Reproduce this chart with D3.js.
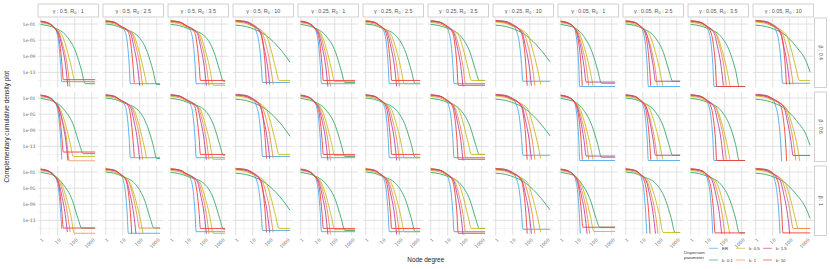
<!DOCTYPE html>
<html>
<head>
<meta charset="utf-8">
<script src="https://cdn.jsdelivr.net/npm/d3@7"></script>
<style>
body { margin: 0; background: #fff; }
text { font-family: "Liberation Sans", Arial, sans-serif; }
</style>
</head>
<body>
<div id="chart"></div>
<script>
var gammas = [0.5, 0.5, 0.5, 0.5, 0.25, 0.25, 0.25, 0.25, 0.05, 0.05, 0.05, 0.05];
var r0s = [1, 2.5, 3.5, 10, 1, 2.5, 3.5, 10, 1, 2.5, 3.5, 10];
var betas = [0.4, 0.6, 1];
var seriesNames = ["ER", "k: 0.1", "k: 0.5", "k: 1", "k: 1.5", "k: 10"];
var seriesColors = ["#4ea9ee", "#3aa86a", "#c9bb1f", "#f08a4e", "#b845a6", "#ef4139"];
var xTicks = [1, 10, 100, 1000];
var yTicks = [1e-1, 1e-5, 1e-9, 1e-13];
var yTickLabels = ["1e-01", "1e-05", "1e-09", "1e-13"];

// curves: pairs of log10(degree), log10(ccdf)
// order inside a panel: ER, k 0.1, k 0.5, k 1, k 1.5, k 10
var beta04 = [
  [ // g 0.5, R0 1
    [0,-0.35, 0.5,-0.85, 0.85,-2.1, 0.94,-3, 1.07,-6, 1.17,-11, 1.24,-15.3, 3.2,-15.3],
    [0,-1.1, 0.5,-1.5, 0.85,-2.0, 1.52,-4, 2.07,-8, 2.4,-12.5, 2.62,-15.8, 3.2,-15.8],
    [0,-0.7, 0.5,-1.1, 0.85,-2.1, 1.22,-3.5, 1.52,-7, 1.82,-12, 2.02,-15.3, 3.2,-15.3],
    [0,-0.45, 0.5,-0.95, 0.85,-2.15, 1.07,-3.2, 1.32,-6.5, 1.57,-11.5, 1.72,-16.5],
    [0,-0.4, 0.5,-0.9, 0.85,-2.15, 1.05,-3.2, 1.25,-6.5, 1.47,-11.5, 1.6,-16.5],
    [0,-0.25, 0.5,-0.85, 0.85,-2.2, 0.98,-3, 1.13,-6, 1.25,-11, 1.33,-14.8, 3.2,-14.8]
  ],
  [ // g 0.5, R0 2.5
    [0,-0.3, 0.5,-0.6, 0.8,-1.3, 1.15,-3, 1.28,-6, 1.38,-11, 1.45,-15.8, 3.2,-15.8],
    [0,-1.0, 0.5,-1.3, 1.0,-2.1, 1.9,-4, 2.45,-8, 2.78,-12.5, 3.0,-16, 3.2,-16],
    [0,-0.6, 0.5,-0.95, 0.9,-1.8, 1.61,-3.5, 1.91,-7, 2.21,-12, 2.41,-16],
    [0,-0.4, 0.5,-0.7, 0.85,-1.6, 1.52,-3.2, 1.77,-6.5, 2.02,-11.5, 2.17,-16.3],
    [0,-0.3, 0.5,-0.6, 0.85,-1.5, 1.45,-3.2, 1.65,-6.5, 1.87,-11.5, 2.0,-16.3],
    [0,-0.17, 0.5,-0.5, 0.8,-1.3, 1.33,-3, 1.48,-6, 1.6,-11, 1.68,-15.6]
  ],
  [ // g 0.5, R0 3.5
    [0,-0.25, 0.5,-0.5, 0.85,-1.3, 1.2,-3, 1.33,-6, 1.43,-11, 1.5,-15.8, 3.2,-15.8],
    [0,-1.1, 0.5,-1.4, 1.0,-2.1, 2.0,-4, 2.55,-8, 2.88,-12.5, 3.1,-15.2, 3.2,-15.2],
    [0,-0.6, 0.5,-0.9, 0.9,-1.7, 1.7,-3.5, 2.0,-7, 2.3,-12, 2.5,-16.2, 3.2,-16.2],
    [0,-0.4, 0.5,-0.65, 0.9,-1.5, 1.6,-3.2, 1.85,-6.5, 2.1,-11.5, 2.25,-16.3],
    [0,-0.3, 0.5,-0.55, 0.9,-1.4, 1.55,-3.2, 1.75,-6.5, 1.97,-11.5, 2.1,-16.3],
    [0,-0.17, 0.5,-0.45, 0.85,-1.2, 1.4,-3, 1.55,-6, 1.67,-11, 1.75,-15, 3.2,-15]
  ],
  [ // g 0.5, R0 10
    [0,-0.17, 0.5,-0.3, 0.9,-0.9, 1.2,-2.7, 1.38,-6, 1.5,-11, 1.58,-15.5, 3.2,-15.5],
    [0,-1.3, 0.6,-1.6, 1.1,-2.3, 1.6,-3.3, 2.4,-6.2, 2.95,-9, 3.2,-10.5],
    [0,-0.5, 0.5,-0.75, 0.9,-1.4, 1.75,-3.5, 2.05,-7, 2.35,-12, 2.55,-15, 3.2,-15],
    [0,-0.3, 0.5,-0.55, 0.9,-1.2, 1.55,-3.2, 1.8,-6.5, 2.05,-11.5, 2.2,-16],
    [0,-0.25, 0.5,-0.45, 0.9,-1.1, 1.45,-3.2, 1.65,-6.5, 1.87,-11.5, 2.0,-16],
    [0,-0.15, 0.5,-0.3, 0.9,-0.9, 1.46,-3, 1.61,-6, 1.73,-11, 1.81,-16]
  ],
  [ // g 0.25, R0 1
    [0,-0.35, 0.5,-0.85, 0.85,-2.1, 0.92,-3, 1.05,-6, 1.15,-11, 1.22,-15.8, 3.2,-15.8],
    [0,-1.1, 0.5,-1.5, 0.85,-2.0, 1.5,-4, 2.05,-8, 2.38,-12.5, 2.6,-15.5, 3.2,-15.5],
    [0,-0.7, 0.5,-1.1, 0.85,-2.1, 1.2,-3.5, 1.5,-7, 1.8,-12, 2.0,-15.3, 3.2,-15.3],
    [0,-0.45, 0.5,-0.95, 0.85,-2.15, 1.1,-3.2, 1.35,-6.5, 1.6,-11.5, 1.75,-16.5],
    [0,-0.4, 0.5,-0.9, 0.85,-2.15, 1.05,-3.2, 1.25,-6.5, 1.47,-11.5, 1.6,-16.5],
    [0,-0.25, 0.5,-0.85, 0.85,-2.2, 0.98,-3, 1.13,-6, 1.25,-11, 1.33,-15, 3.2,-15]
  ],
  [ // g 0.25, R0 2.5
    [0,-0.3, 0.5,-0.6, 0.8,-1.3, 1.09,-3, 1.22,-6, 1.32,-11, 1.39,-15.8, 3.2,-15.8],
    [0,-1.0, 0.5,-1.3, 1.0,-2.1, 1.8,-4, 2.35,-8, 2.68,-12.5, 2.9,-15.7, 3.2,-15.7],
    [0,-0.6, 0.5,-0.95, 0.9,-1.8, 1.47,-3.5, 1.77,-7, 2.07,-12, 2.27,-15.8, 3.2,-15.8],
    [0,-0.4, 0.5,-0.7, 0.85,-1.6, 1.33,-3.2, 1.58,-6.5, 1.83,-11.5, 1.98,-16.5],
    [0,-0.3, 0.5,-0.6, 0.85,-1.5, 1.27,-3.2, 1.47,-6.5, 1.69,-11.5, 1.82,-16.5],
    [0,-0.17, 0.5,-0.5, 0.8,-1.3, 1.18,-3, 1.33,-6, 1.45,-11, 1.53,-15, 3.2,-15]
  ],
  [ // g 0.25, R0 3.5
    [0,-0.25, 0.5,-0.5, 0.85,-1.3, 1.07,-3, 1.2,-6, 1.3,-11, 1.37,-15.8, 3.2,-15.8],
    [0,-1.1, 0.5,-1.4, 1.0,-2.1, 1.76,-4, 2.31,-8, 2.64,-12.5, 2.86,-15, 3.2,-15],
    [0,-0.6, 0.5,-0.9, 0.9,-1.7, 1.6,-3.5, 1.9,-7, 2.2,-12, 2.4,-15, 3.2,-15],
    [0,-0.4, 0.5,-0.65, 0.9,-1.5, 1.4,-3.2, 1.65,-6.5, 1.9,-11.5, 2.05,-15.8, 3.2,-15.8],
    [0,-0.3, 0.5,-0.55, 0.9,-1.4, 1.35,-3.2, 1.55,-6.5, 1.77,-11.5, 1.9,-16.5],
    [0,-0.17, 0.5,-0.45, 0.85,-1.2, 1.27,-3, 1.42,-6, 1.54,-11, 1.62,-16.2, 3.2,-16.2]
  ],
  [ // g 0.25, R0 10
    [0,-0.17, 0.5,-0.3, 0.9,-0.9, 1.22,-2.7, 1.4,-6, 1.52,-11, 1.6,-15.2, 3.2,-15.2],
    [0,-1.3, 0.6,-1.6, 1.1,-2.3, 1.6,-3.3, 2.4,-6.2, 2.95,-9, 3.2,-10.4],
    [0,-0.5, 0.5,-0.75, 0.9,-1.4, 1.85,-3.5, 2.15,-7, 2.45,-12, 2.65,-16],
    [0,-0.3, 0.5,-0.55, 0.9,-1.2, 1.65,-3.2, 1.9,-6.5, 2.15,-11.5, 2.3,-16.3],
    [0,-0.25, 0.5,-0.45, 0.9,-1.1, 1.55,-3.2, 1.75,-6.5, 1.97,-11.5, 2.1,-16.3],
    [0,-0.15, 0.5,-0.3, 0.9,-0.9, 1.5,-3, 1.65,-6, 1.77,-11, 1.85,-16.3]
  ],
  [ // g 0.05, R0 1
    [0,-0.35, 0.5,-0.85, 0.8,-1.9, 0.87,-3, 0.97,-6, 1.06,-11, 1.12,-16.5, 3.2,-16.5],
    [0,-1.1, 0.5,-1.5, 0.85,-2.0, 1.35,-4, 1.85,-8, 2.18,-12.5, 2.4,-15.7, 3.2,-15.7],
    [0,-0.7, 0.5,-1.1, 0.85,-2.1, 1.12,-3.5, 1.4,-7, 1.7,-12, 1.9,-16.3],
    [0,-0.45, 0.5,-0.95, 0.85,-2.15, 1.02,-3.2, 1.25,-6.5, 1.5,-11.5, 1.65,-16.3],
    [0,-0.4, 0.5,-0.9, 0.85,-2.15, 0.98,-3.2, 1.17,-6.5, 1.37,-11.5, 1.5,-15.4, 3.2,-15.4],
    [0,-0.25, 0.5,-0.85, 0.8,-2.0, 0.92,-3, 1.07,-6, 1.19,-11, 1.27,-16.3]
  ],
  [ // g 0.05, R0 2.5
    [0,-0.3, 0.5,-0.6, 0.8,-1.3, 1.03,-3, 1.16,-6, 1.26,-11, 1.33,-16.5, 3.2,-16.5],
    [0,-1.0, 0.5,-1.3, 1.0,-2.1, 1.66,-4, 2.21,-8, 2.54,-12.5, 2.76,-15.2, 3.2,-15.2],
    [0,-0.6, 0.5,-0.95, 0.9,-1.8, 1.38,-3.5, 1.68,-7, 1.98,-12, 2.18,-16.3],
    [0,-0.4, 0.5,-0.7, 0.85,-1.6, 1.21,-3.2, 1.46,-6.5, 1.71,-11.5, 1.86,-16.3],
    [0,-0.3, 0.5,-0.6, 0.85,-1.5, 1.2,-3.2, 1.4,-6.5, 1.62,-11.5, 1.75,-15.2, 3.2,-15.2],
    [0,-0.17, 0.5,-0.5, 0.8,-1.3, 1.12,-3, 1.27,-6, 1.39,-11, 1.47,-16.3]
  ],
  [ // g 0.05, R0 3.5
    [0,-0.25, 0.5,-0.5, 0.85,-1.3, 1.07,-3, 1.2,-6, 1.3,-11, 1.37,-16.5, 3.2,-16.5],
    [0,-1.1, 0.5,-1.4, 1.0,-2.1, 1.76,-4, 2.31,-8, 2.64,-12.5, 2.86,-16.5, 3.2,-16.5],
    [0,-0.6, 0.5,-0.9, 0.9,-1.7, 1.51,-3.5, 1.81,-7, 2.11,-12, 2.31,-16.3],
    [0,-0.4, 0.5,-0.65, 0.9,-1.5, 1.45,-3.2, 1.7,-6.5, 1.95,-11.5, 2.1,-16.3],
    [0,-0.3, 0.5,-0.55, 0.9,-1.4, 1.37,-3.2, 1.57,-6.5, 1.79,-11.5, 1.92,-16.3],
    [0,-0.17, 0.5,-0.45, 0.85,-1.2, 1.18,-3, 1.33,-6, 1.45,-11, 1.53,-16.5, 3.2,-16.5]
  ],
  [ // g 0.05, R0 10
    [0,-0.17, 0.5,-0.3, 0.9,-0.9, 1.2,-2.7, 1.38,-6, 1.5,-11, 1.58,-15.7, 3.2,-15.7],
    [0,-1.3, 0.6,-1.6, 1.1,-2.3, 1.6,-3.3, 2.4,-6.7, 2.98,-10.4, 3.2,-12.9],
    [0,-0.5, 0.5,-0.75, 0.9,-1.4, 1.77,-3.5, 2.07,-7, 2.37,-12, 2.57,-15, 3.2,-15],
    [0,-0.3, 0.5,-0.55, 0.9,-1.2, 1.55,-3.2, 1.8,-6.5, 2.05,-11.5, 2.2,-16],
    [0,-0.25, 0.5,-0.45, 0.9,-1.1, 1.45,-3.2, 1.65,-6.5, 1.87,-11.5, 2.0,-16],
    [0,-0.15, 0.5,-0.3, 0.9,-0.9, 1.46,-3, 1.61,-6, 1.73,-11, 1.81,-16]
  ]
];

// panels of the lower rows that look like the top row keep its readings
var beta06 = beta04.slice();
beta06[0] = [
    [0,-0.3, 0.5,-0.8, 0.85,-2.1, 0.94,-3, 1.07,-6, 1.17,-11, 1.24,-16.25],
    [0,-1.1, 0.5,-1.5, 0.85,-2.0, 1.4,-4, 1.95,-8, 2.28,-12.5, 2.5,-14.8, 3.2,-14.8],
    [0,-0.7, 0.5,-1.1, 0.85,-2.1, 1.12,-3.5, 1.42,-7, 1.72,-12, 1.92,-15.5, 3.2,-15.5],
    [0,-0.45, 0.5,-0.95, 0.85,-2.15, 1.03,-3.2, 1.28,-6.5, 1.53,-11.5, 1.68,-16.6, 3.2,-16.6],
    [0,-0.4, 0.5,-0.9, 0.85,-2.15, 1.05,-3.2, 1.25,-6.5, 1.47,-11.5, 1.6,-16.5],
    [0,-0.25, 0.5,-0.85, 0.85,-2.2, 0.98,-3, 1.13,-6, 1.25,-11, 1.33,-14.4, 3.2,-14.4]
];
beta06[11] = [
    [0,-0.17, 0.5,-0.3, 0.9,-0.9, 1.15,-2.7, 1.33,-6, 1.45,-11, 1.53,-16.7],
    [0,-1.3, 0.6,-1.6, 1.1,-2.3, 1.6,-3.3, 2.4,-6.6, 2.98,-10.3, 3.2,-12.75],
    [0,-0.5, 0.5,-0.75, 0.9,-1.4, 1.8,-3.5, 2.1,-7, 2.4,-12, 2.6,-16.7],
    [0,-0.3, 0.5,-0.55, 0.9,-1.2, 1.7,-3.2, 1.95,-6.5, 2.2,-11.5, 2.35,-16.5],
    [0,-0.25, 0.5,-0.45, 0.9,-1.1, 1.65,-3.2, 1.85,-6.5, 2.07,-11.5, 2.2,-15.25, 3.2,-15.25],
    [0,-0.15, 0.5,-0.3, 0.9,-0.9, 1.47,-3, 1.62,-6, 1.74,-11, 1.82,-16.7]
];

var beta1 = beta04.slice();
beta1[0] = [
    [0,-0.3, 0.5,-0.8, 0.85,-2.1, 0.94,-3, 1.07,-6, 1.17,-11, 1.24,-15.1],
    [0,-1.1, 0.5,-1.5, 0.85,-2.0, 1.31,-4, 1.86,-8, 2.19,-12.5, 2.41,-14.9, 3.2,-14.9],
    [0,-0.7, 0.5,-1.1, 0.85,-2.1, 1.18,-3.5, 1.48,-7, 1.78,-12, 1.98,-16.2, 3.2,-16.2],
    [0,-0.45, 0.5,-0.95, 0.85,-2.15, 1.08,-3.2, 1.33,-6.5, 1.58,-11.5, 1.73,-15.9],
    [0,-0.4, 0.5,-0.9, 0.85,-2.15, 1.02,-3.2, 1.22,-6.5, 1.44,-11.5, 1.57,-15.9],
    [0,-0.25, 0.5,-0.85, 0.85,-2.2, 0.98,-3, 1.13,-6, 1.25,-11, 1.33,-14.9, 3.2,-14.9]
];
beta1[1] = [
    [0,-0.3, 0.5,-0.6, 0.8,-1.3, 1.03,-3, 1.16,-6, 1.26,-11, 1.33,-16.2, 3.2,-16.2],
    [0,-1.0, 0.5,-1.3, 1.0,-2.1, 1.74,-4, 2.29,-8, 2.62,-12.5, 2.84,-14.9, 3.2,-14.9],
    [0,-0.6, 0.5,-0.95, 0.9,-1.8, 1.4,-3.5, 1.7,-7, 2.0,-12, 2.2,-16.3],
    [0,-0.4, 0.5,-0.7, 0.85,-1.6, 1.33,-3.2, 1.58,-6.5, 1.83,-11.5, 1.98,-14.9, 3.2,-14.9],
    [0,-0.3, 0.5,-0.6, 0.85,-1.5, 1.23,-3.2, 1.43,-6.5, 1.65,-11.5, 1.78,-16.3],
    [0,-0.17, 0.5,-0.5, 0.8,-1.3, 1.18,-3, 1.33,-6, 1.45,-11, 1.53,-16.3]
];
beta1[8] = [
    [0,-0.35, 0.5,-0.85, 0.8,-1.9, 0.88,-3, 1.0,-6, 1.09,-11, 1.15,-16.3],
    [0,-1.1, 0.5,-1.5, 0.85,-2.0, 1.25,-4, 1.75,-8, 2.08,-12.5, 2.3,-14.7, 3.2,-14.7],
    [0,-0.7, 0.5,-1.1, 0.85,-2.1, 1.15,-3.5, 1.45,-7, 1.75,-12, 1.95,-15.75, 3.2,-15.75],
    [0,-0.45, 0.5,-0.95, 0.85,-2.15, 1.05,-3.2, 1.3,-6.5, 1.55,-11.5, 1.7,-16.3],
    [0,-0.4, 0.5,-0.9, 0.85,-2.15, 1.0,-3.2, 1.2,-6.5, 1.42,-11.5, 1.55,-16.3],
    [0,-0.25, 0.5,-0.85, 0.8,-2.0, 0.95,-3, 1.1,-6, 1.22,-11, 1.3,-14.7, 3.2,-14.7]
];
beta1[9] = [
    [0,-0.3, 0.5,-0.6, 0.8,-1.3, 0.96,-3, 1.08,-6, 1.17,-11, 1.24,-16.3],
    [0,-1.0, 0.5,-1.3, 1.0,-2.1, 1.8,-4, 2.35,-8, 2.68,-12.5, 2.9,-16, 3.2,-16],
    [0,-0.6, 0.5,-0.95, 0.9,-1.8, 1.4,-3.5, 1.7,-7, 2.0,-12, 2.2,-16, 3.2,-16],
    [0,-0.4, 0.5,-0.7, 0.85,-1.6, 1.25,-3.2, 1.5,-6.5, 1.75,-11.5, 1.9,-16.3],
    [0,-0.3, 0.5,-0.6, 0.85,-1.5, 1.2,-3.2, 1.4,-6.5, 1.62,-11.5, 1.75,-16.3],
    [0,-0.17, 0.5,-0.5, 0.8,-1.3, 1.08,-3, 1.23,-6, 1.35,-11, 1.43,-16.3]
];
beta1[10] = [
    [0,-0.25, 0.5,-0.5, 0.85,-1.3, 1.0,-3, 1.13,-6, 1.23,-11, 1.3,-16.3],
    [0,-1.1, 0.5,-1.4, 1.0,-2.1, 1.76,-4, 2.31,-8, 2.64,-12.5, 2.86,-16.1, 3.2,-16.1],
    [0,-0.6, 0.5,-0.9, 0.9,-1.7, 1.5,-3.5, 1.8,-7, 2.1,-12, 2.3,-16.3],
    [0,-0.4, 0.5,-0.65, 0.9,-1.5, 1.35,-3.2, 1.6,-6.5, 1.85,-11.5, 2.0,-16.3],
    [0,-0.3, 0.5,-0.55, 0.9,-1.4, 1.27,-3.2, 1.47,-6.5, 1.69,-11.5, 1.82,-16.3],
    [0,-0.17, 0.5,-0.45, 0.85,-1.2, 1.08,-3, 1.23,-6, 1.35,-11, 1.43,-16.1, 3.2,-16.1]
];
beta1[11] = [
    [0,-0.17, 0.5,-0.3, 0.9,-0.9, 1.1,-2.7, 1.25,-6, 1.36,-11, 1.43,-16.3],
    [0,-1.3, 0.6,-1.6, 1.1,-2.3, 1.6,-3.3, 2.4,-6.6, 2.98,-10.2, 3.2,-12.5],
    [0,-0.5, 0.5,-0.75, 0.9,-1.4, 1.7,-3.5, 2.0,-7, 2.3,-12, 2.5,-15, 3.2,-15],
    [0,-0.3, 0.5,-0.55, 0.9,-1.2, 1.55,-3.2, 1.8,-6.5, 2.05,-11.5, 2.2,-15, 3.2,-15],
    [0,-0.25, 0.5,-0.45, 0.9,-1.1, 1.45,-3.2, 1.65,-6.5, 1.87,-11.5, 2.0,-16.3],
    [0,-0.15, 0.5,-0.3, 0.9,-0.9, 1.27,-3, 1.42,-6, 1.53,-11, 1.6,-16.1, 3.2,-16.1]
];

var curves = [beta04, beta06, beta1];

var margin = {left: 38, top: 18};
var pw = 60.5, ph = 69.5, gapX = 4.5, gapY = 4.5;

var svg = d3.select("#chart")
    .append("svg")
    .attr("width", 830)
    .attr("height", 269);

var x = d3.scaleLog().domain([Math.pow(10, -0.16), Math.pow(10, 3.4)]).range([0, pw]);
var y = d3.scaleLog().domain([Math.pow(10, -16.75), Math.pow(10, 0.5)]).range([ph, 0]);
var xMinor = [Math.pow(10, 0.5), Math.pow(10, 1.5), Math.pow(10, 2.5)];
var yMinor = [1e-3, 1e-7, 1e-11, 1e-15];

var line = d3.line()
    .curve(d3.curveMonotoneX)
    .x(function (d) { return x(d[0]); })
    .y(function (d) { return y(d[1]); });

function toPoints(arr) {
    var pts = [];
    for (var i = 0; i < arr.length; i += 2) {
        pts.push([Math.pow(10, arr[i]), Math.pow(10, arr[i + 1])]);
    }
    return pts;
}

betas.forEach(function (beta, r) {
    r0s.forEach(function (r0, c) {
        var px = margin.left + c * (pw + gapX);
        var py = margin.top + r * (ph + gapY);
        var g = svg.append("g").attr("transform", "translate(" + px + "," + py + ")");

        // grid
        g.selectAll(".ymin").data(yMinor).enter().append("line")
            .attr("x1", 0).attr("x2", pw)
            .attr("y1", function (d) { return y(d); }).attr("y2", function (d) { return y(d); })
            .style("stroke", "#ececec").style("stroke-width", 0.6);
        g.selectAll(".xmin").data(xMinor).enter().append("line")
            .attr("y1", 0).attr("y2", ph)
            .attr("x1", function (d) { return x(d); }).attr("x2", function (d) { return x(d); })
            .style("stroke", "#ececec").style("stroke-width", 0.6);
        g.selectAll(".ymaj").data(yTicks).enter().append("line")
            .attr("x1", 0).attr("x2", pw)
            .attr("y1", function (d) { return y(d); }).attr("y2", function (d) { return y(d); })
            .style("stroke", "#d9d9d9").style("stroke-width", 0.8);
        g.selectAll(".xmaj").data(xTicks).enter().append("line")
            .attr("y1", 0).attr("y2", ph)
            .attr("x1", function (d) { return x(d); }).attr("x2", function (d) { return x(d); })
            .style("stroke", "#d9d9d9").style("stroke-width", 0.8);

        var clipId = "clip" + r + "_" + c;
        g.append("clipPath").attr("id", clipId)
            .append("rect").attr("width", pw).attr("height", ph);

        g.append("g").attr("clip-path", "url(#" + clipId + ")")
            .selectAll("path").data(curves[r][c]).enter().append("path")
            .attr("d", function (d) { return line(toPoints(d)); })
            .style("fill", "none")
            .style("stroke", function (d, i) { return seriesColors[i]; })
            .style("stroke-width", 0.9);

        if (c === 0) {
            g.selectAll(".ylab").data(yTicks).enter().append("text")
                .attr("x", -2.5)
                .attr("y", function (d) { return y(d); })
                .attr("dy", "0.35em")
                .style("text-anchor", "end")
                .style("font-size", "4.6px")
                .style("font-family", "DejaVu Serif, serif")
                .style("fill", "#555")
                .text(function (d, i) { return yTickLabels[i]; });
        }
        if (r === betas.length - 1) {
            g.selectAll(".xlab").data(xTicks).enter().append("text")
                .attr("transform", function (d) { return "translate(" + (x(d) + 1) + "," + (ph + 2.5) + ") rotate(-45)"; })
                .attr("dy", "0.7em")
                .style("text-anchor", "end")
                .style("font-size", "4.6px")
                .style("font-family", "DejaVu Serif, serif")
                .style("fill", "#555")
                .text(function (d) { return d; });
        }
        if (r === 0) {
            g.append("rect")
                .attr("x", 0).attr("y", -14).attr("width", pw).attr("height", 13)
                .style("fill", "#fff").style("stroke", "#bdbdbd").style("stroke-width", 0.7);
            var t = g.append("text")
                .attr("x", pw / 2).attr("y", -5.4)
                .style("text-anchor", "middle")
                .style("font-size", "5.4px")
                .style("fill", "#555");
            t.append("tspan").text("\u03b3 : " + gammas[c] + ",  R");
            t.append("tspan").attr("dy", 1.1).style("font-size", "3.8px").text("0");
            t.append("tspan").attr("dy", -1.1).text(" : " + r0);
        }
        if (c === r0s.length - 1) {
            g.append("rect")
                .attr("x", pw + 1).attr("y", 0).attr("width", 12).attr("height", ph)
                .style("fill", "#fff").style("stroke", "#bdbdbd").style("stroke-width", 0.7);
            g.append("text")
                .attr("transform", "translate(" + (pw + 7) + "," + (ph / 2) + ") rotate(90)")
                .attr("dy", "0.35em")
                .style("text-anchor", "middle")
                .style("font-size", "5.2px")
                .style("fill", "#555")
                .text("\u03b2 : " + beta);
        }
    });
});

// axis titles
svg.append("text")
    .attr("transform", "translate(9," + (margin.top + (3 * ph + 2 * gapY) / 2) + ") rotate(-90)")
    .style("text-anchor", "middle")
    .style("font-size", "6.4px")
    .style("fill", "#222")
    .text("Complementary cumulative density plot");

svg.append("text")
    .attr("x", margin.left + (12 * pw + 11 * gapX) / 2)
    .attr("y", 262)
    .style("text-anchor", "middle")
    .style("font-size", "6.4px")
    .style("fill", "#222")
    .text("Node degree");

// legend
var legend = svg.append("g").attr("transform", "translate(684,0)");
legend.append("text").attr("x", 0).attr("y", 253.5).style("font-size", "4.4px").style("fill", "#333").text("Dispersion");
legend.append("text").attr("x", 0).attr("y", 258.5).style("font-size", "4.4px").style("fill", "#333").text("parameter");
var legendOrder = [0, 2, 4, 1, 3, 5];
legendOrder.forEach(function (s, i) {
    var lx = 25 + (i % 3) * 27;
    var ly = 248.3 + Math.floor(i / 3) * 11.7;
    legend.append("line")
        .attr("x1", lx).attr("x2", lx + 9)
        .attr("y1", ly).attr("y2", ly)
        .style("stroke", seriesColors[s]).style("stroke-width", 0.9).style("opacity", 0.75);
    legend.append("text")
        .attr("x", lx + 13).attr("y", ly).attr("dy", "0.35em")
        .style("font-size", "4.4px").style("fill", "#333")
        .text(seriesNames[s]);
});
</script>
</body>
</html>
